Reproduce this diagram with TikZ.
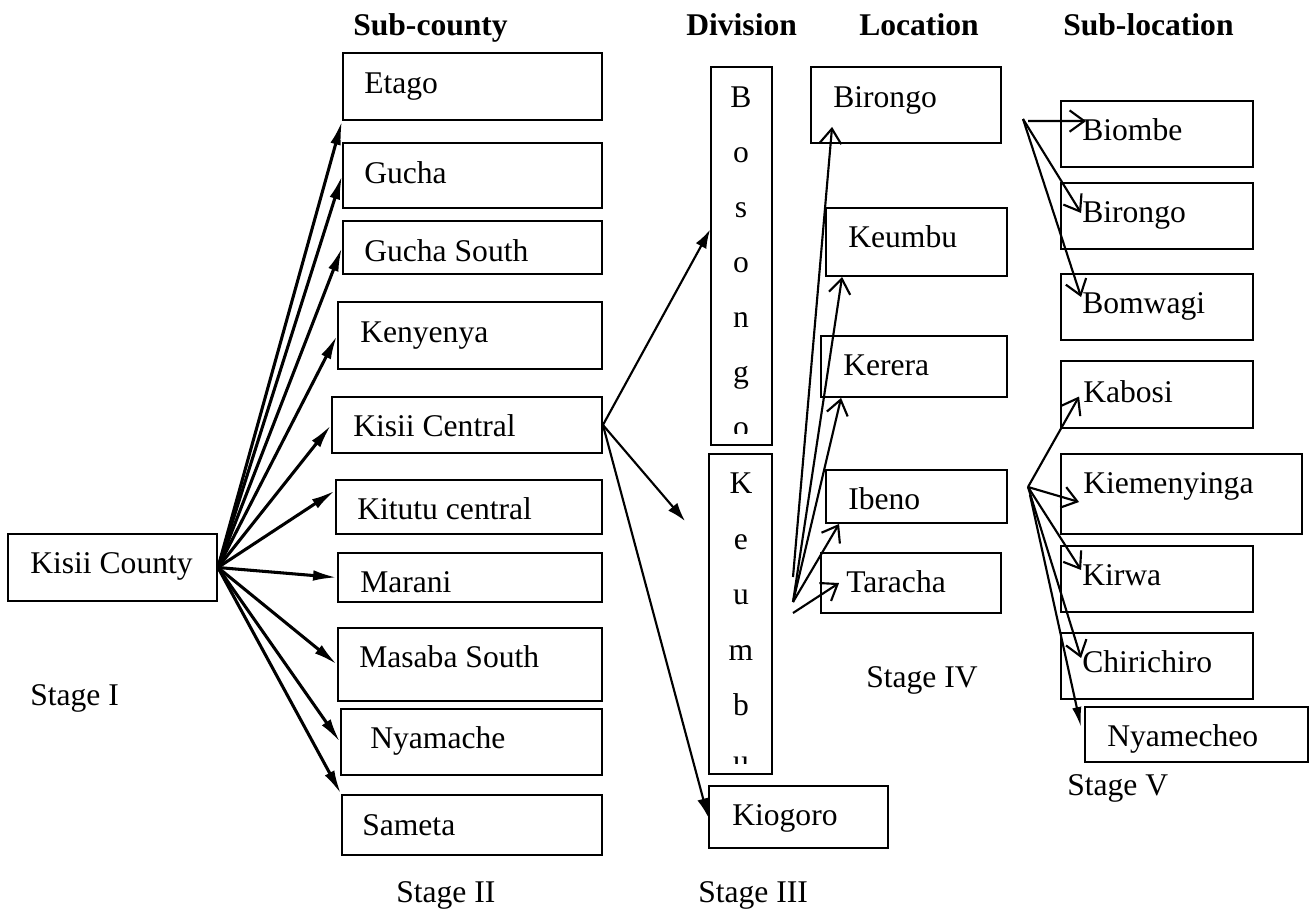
\documentclass[tikz,border=0pt]{standalone}
\usepackage{fontspec}
\setmainfont{Liberation Serif}
\usetikzlibrary{arrows.meta,calc,fit}
\newcommand{\bx}[8]{%
  \node[box, fit={(#2,#3) (#4,#5)}] (#1) {};
  \node[lbl] (#1t) at (#7,#8) {#6};}
\begin{document}
\begin{tikzpicture}[x=0.75pt,y=-0.75pt,
  box/.style={draw, line width=1.4pt, inner sep=0pt},
  lbl/.style={inner sep=0pt, font=\fontsize{23.7}{28}\selectfont, anchor=base west},
  hdr/.style={lbl, font=\fontsize{23.7}{28}\selectfont\bfseries},
  thickarr/.style={line width=2.3pt, -{Latex[length=18pt,width=8pt]}},
  midarr/.style={line width=1.6pt, -{Latex[length=14pt,width=9pt]}},
  nyarr/.style={line width=1.6pt, -{Latex[length=15pt,width=7pt]}},
  openarr/.style={line width=1.6pt, -{Straight Barb[length=11pt,width=16pt,line width=1.6pt]}},
]
\useasboundingbox (0,0) rectangle (1314,908);

% headers
\node[hdr] (h1) at (353,35) {Sub-county};
\node[hdr] (h2) at (686,35) {Division};
\node[hdr] (h3) at (859,35) {Location};
\node[hdr] (h4) at (1063,35) {Sub-location};

% stage labels
\node[lbl] (s1) at (30,705) {Stage I};
\node[lbl] (s2) at (396,902) {Stage II};
\node[lbl] (s3) at (698,902) {Stage III};
\node[lbl] (s4) at (866,687) {Stage IV};
\node[lbl] (s5) at (1067,795) {Stage V};

% county
\bx{county}{8}{534}{217}{601}{Kisii County}{30}{573}

% sub-counties
\bx{etago}{343}{53}{602}{120}{Etago}{364}{93}
\bx{gucha}{343}{143}{602}{208}{Gucha}{364}{183}
\bx{guchas}{343}{221}{602}{274}{Gucha South}{364}{261}
\bx{kenyenya}{338}{302}{602}{369}{Kenyenya}{360}{342}
\bx{kisiic}{332}{397}{602}{453}{Kisii Central}{353}{436}
\bx{kitutu}{336}{480}{602}{534}{Kitutu central}{357}{519}
\bx{marani}{338}{553}{602}{602}{Marani}{360}{592}
\bx{masaba}{338}{628}{602}{701}{Masaba South}{359}{667}
\bx{nyamache}{341}{709}{602}{775}{Nyamache}{370}{748}
\bx{sameta}{342}{795}{602}{855}{Sameta}{362}{835}

% divisions
\node[box, fit={(711,67) (772,445)}] (bosongo) {};
\begin{scope}
  \clip (711,67) rectangle (772,433);
  \foreach \l/\y [count=\i] in {B/107,o/162,s/217,o/272,n/327,g/382,o/437}
    \node[lbl, anchor=base] (bos\i) at (741,\y) {\l};
\end{scope}
\node[box, fit={(709,454) (772,774)}] (keumbud) {};
\begin{scope}
  \clip (709,454) rectangle (772,763);
  \foreach \l/\y [count=\i] in {K/493,e/549,u/604,m/660,b/715,u/771}
    \node[lbl, anchor=base] (keu\i) at (741,\y) {\l};
\end{scope}
\bx{kiogoro}{709}{786}{888}{848}{Kiogoro}{732}{825}

% locations
\bx{birongo}{811}{67}{1001}{143}{Birongo}{833}{107}
\bx{keumbul}{826}{208}{1007}{276}{Keumbu}{848}{247}
\bx{kerera}{821}{336}{1007}{397}{Kerera}{843}{375}
\bx{ibeno}{826}{470}{1007}{523}{Ibeno}{848}{509}
\bx{taracha}{821}{553}{1001}{613}{Taracha}{846}{592}

% sub-locations
\bx{biombe}{1061}{101}{1253}{167}{Biombe}{1082}{140}
\bx{birongos}{1061}{183}{1253}{249}{Birongo}{1082}{222}
\bx{bomwagi}{1061}{274}{1253}{340}{Bomwagi}{1082}{313}
\bx{kabosi}{1061}{361}{1253}{428}{Kabosi}{1083}{402}
\bx{kiemen}{1061}{454}{1302}{534}{Kiemenyinga}{1083}{493}
\bx{kirwa}{1061}{546}{1253}{612}{Kirwa}{1082}{585}
\bx{chiri}{1061}{633}{1253}{699}{Chirichiro}{1082}{672}
\bx{nyamecheo}{1085}{707}{1308}{762}{Nyamecheo}{1107}{746}

% county -> sub-counties
\draw[thickarr] (county.east) -- (etago.south west);
\draw[thickarr] (county.east) -- (gucha.west);
\draw[thickarr] (county.east) -- (guchas.west);
\draw[thickarr] (county.east) -- (kenyenya.west);
\draw[thickarr] (county.east) -- (kisiic.west);
\draw[thickarr] (county.east) -- (kitutu.173);
\draw[thickarr] (county.east) -- (marani.west);
\draw[thickarr] (county.east) -- (masaba.west);
\draw[thickarr] (county.east) -- (nyamache.west);
\draw[thickarr] (county.east) -- (sameta.north west);

% Kisii Central -> divisions
\coordinate (gap) at (685,521);
\draw[midarr] (kisiic.east) -- (bosongo.140);
\draw[midarr] (kisiic.east) -- (gap);
\draw[midarr] (kisiic.east) -- (kiogoro.west);

% Keumbu -> locations
\coordinate (lo1) at (793,577);
\coordinate (lo2) at (793,602);
\coordinate (lo3) at (793,613);
\draw[openarr] (lo1) -- ($(birongo.south west)+(22,-17)$);
\draw[openarr] (lo2) -- ($(keumbul.south west)+(17,0)$);
\draw[openarr] (lo2) -- ($(kerera.south west)+(21,0)$);
\draw[openarr] (lo2) -- ($(ibeno.south west)+(14,0)$);
\draw[openarr] (lo3) -- ($(taracha.west)+(19,0)$);

% Birongo -> sub-locations
\coordinate (so1) at (1023,119);
\coordinate (so1h) at (1028,121);
\draw[openarr] (so1h) -- ($(biombe.north west)+(26,21)$);
\draw[openarr] (so1) -- ($(birongos.west)+(21,-3)$);
\draw[openarr] (so1) -- ($(bomwagi.west)+(21,-10)$);

% Ibeno -> sub-locations
\coordinate (so2) at (1028,487);
\coordinate (so2b) at (1030,495);
\draw[openarr] (so2) -- ($(kabosi.west)+(19,2)$);
\draw[openarr] (so2) -- ($(kiemen.west)+(19,8)$);
\draw[openarr] (so2) -- ($(kirwa.west)+(21,-9)$);
\draw[openarr] (so2) -- ($(chiri.west)+(21,-8)$);
\draw[nyarr] (so2b) -- ($(nyamecheo.west)+(-3,-7.5)$);
\end{tikzpicture}
\end{document}
